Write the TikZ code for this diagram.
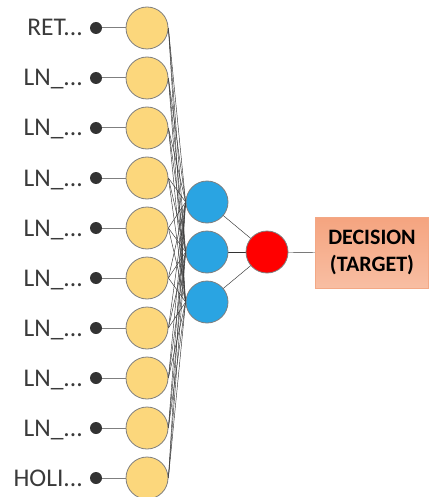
\documentclass[tikz,border=0pt]{standalone}
\usepackage{fontspec}
\setmainfont{Carlito}
\usetikzlibrary{backgrounds}
\newcommand\myell{...}
\definecolor{yel}{HTML}{FCD77C}
\definecolor{blu}{HTML}{2AA4E2}
\definecolor{edge}{HTML}{7F7F7F}
\definecolor{wire}{HTML}{333333}
\definecolor{boxtop}{HTML}{F5A47F}
\definecolor{boxbot}{HTML}{F8BEA3}
\definecolor{boxline}{HTML}{F3A885}
\definecolor{txt}{HTML}{3A3A3A}
\begin{document}
\begin{tikzpicture}[x=1pt,y=-1pt,
  innode/.style={circle,draw=edge,line width=0.8pt,fill=yel,minimum size=42pt,inner sep=0pt},
  hidnode/.style={circle,draw=edge,line width=0.8pt,fill=blu,minimum size=42pt,inner sep=0pt},
  outnode/.style={circle,draw=edge,line width=0.8pt,fill=red,minimum size=42pt,inner sep=0pt},
  dotnode/.style={circle,fill=wire,minimum size=12pt,inner sep=0pt},
  lbl/.style={anchor=base east,inner sep=0pt,text=txt,font=\fontsize{25.5}{28}\selectfont},
  wirestyle/.style={draw=wire,line width=0.45pt},
  feed/.style={draw=edge,line width=1pt}]
\useasboundingbox (0,0) rectangle (430,497);
\foreach \i/\t in {1/RET,2/LN\_,3/LN\_,4/LN\_,5/LN\_,6/LN\_,7/LN\_,8/LN\_,9/LN\_,10/HOLI}{
  \pgfmathsetmacro{\yy}{28+50*(\i-1)}
  \node[innode] (y\i) at (147,\yy) {};
  \node[dotnode] (d\i) at (96,\yy) {};
  \node[lbl] (l\i) at (83,\yy+8) {\t\myell};
}
\node[hidnode] (b1) at (207,202) {};
\node[hidnode] (b2) at (207,252) {};
\node[hidnode] (b3) at (207,302) {};
\node[outnode] (r) at (267,252) {};
\node[draw=boxline,line width=0.8pt,top color=boxtop,bottom color=boxbot,
      minimum width=113pt,minimum height=71pt,inner sep=0pt,align=center,
      font=\fontsize{22}{27}\selectfont\bfseries,text=black] (box) at (372,252.5) {DECISION\\(TARGET)};
\begin{scope}[on background layer]
  \foreach \i in {1,...,10}{
    \draw[feed] (d\i.center) -- (y\i.center);
    \foreach \j in {1,2,3}{
      \draw[wirestyle] (y\i.east) -- (b\j.west);
    }
  }
  \foreach \j in {1,2,3}{
    \draw[wirestyle] (b\j.center) -- (r.center);
  }
  \draw[wirestyle] (r.center) -- (box.west);
\end{scope}
\end{tikzpicture}
\end{document}
